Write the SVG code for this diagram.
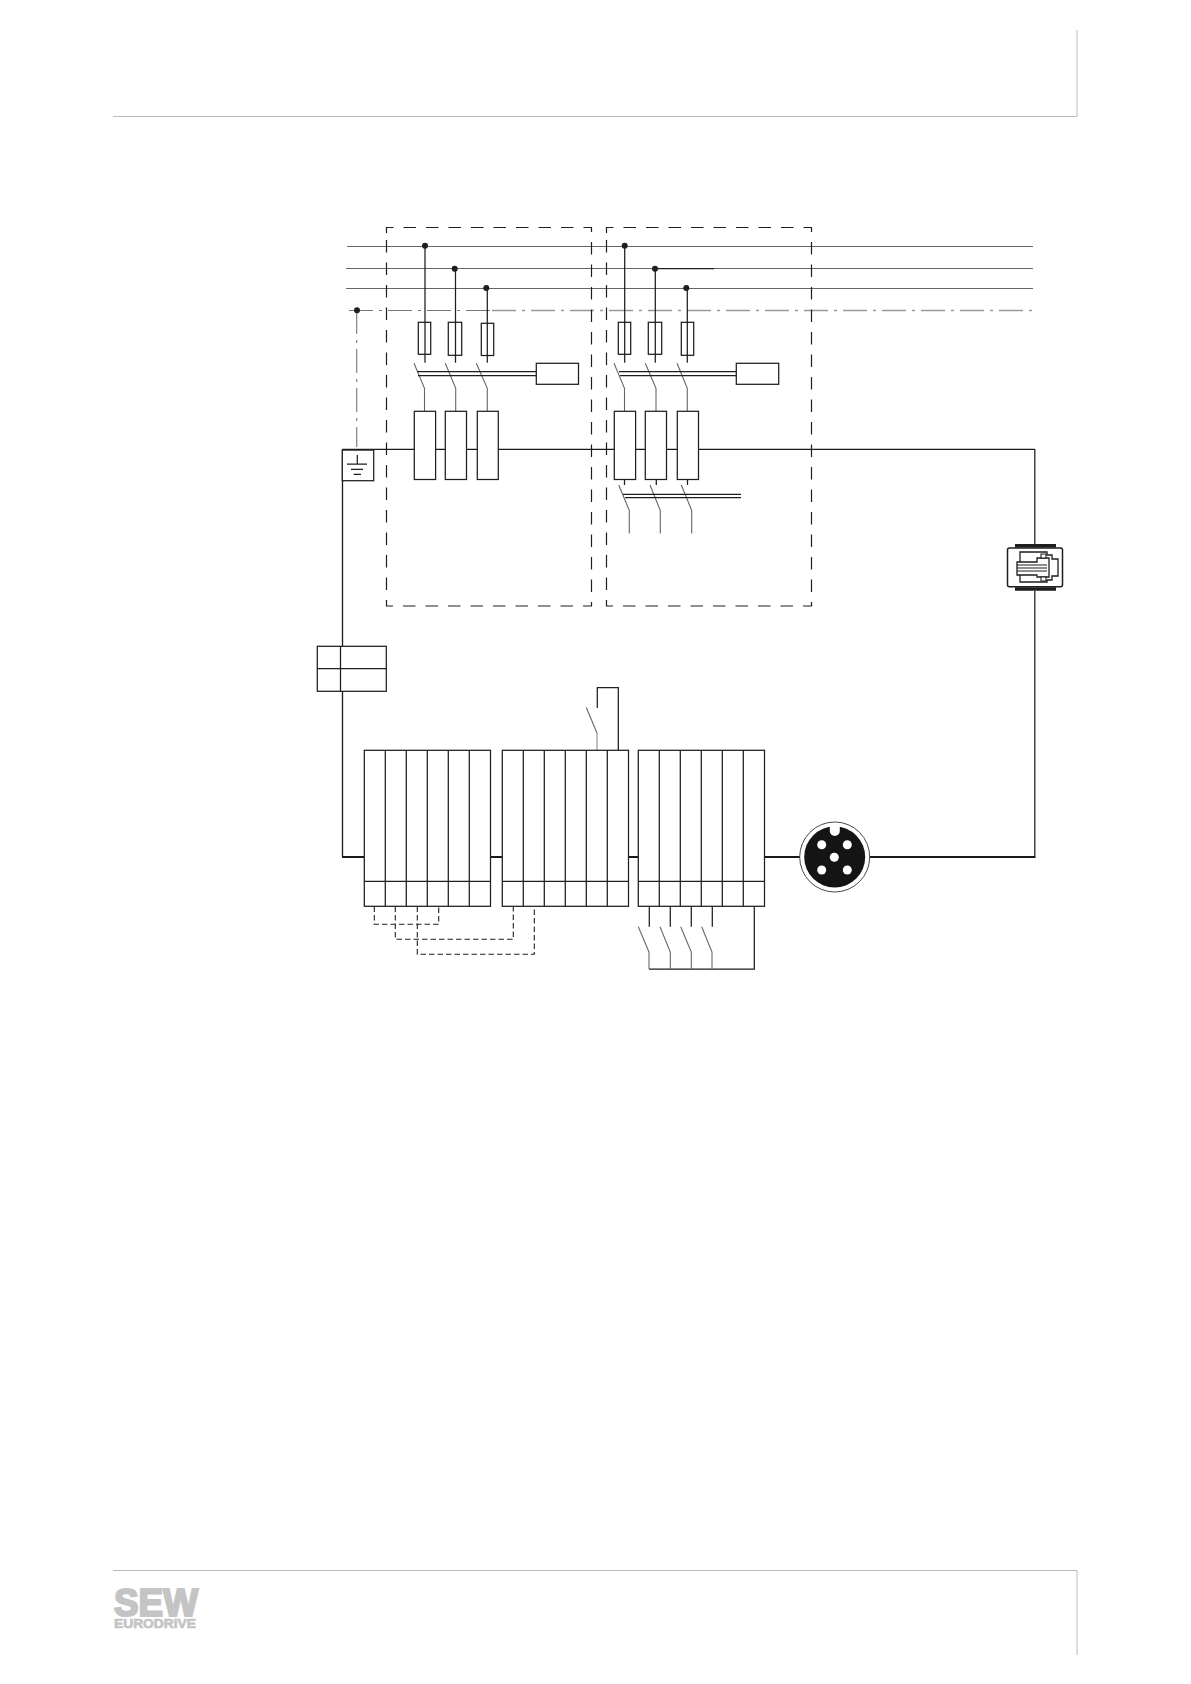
<svg xmlns="http://www.w3.org/2000/svg" width="1191" height="1684" viewBox="0 0 1191 1684">
<style>
.l{fill:none;stroke:#1e1e1e;stroke-width:1.25}
.b{fill:#fff;stroke:#1e1e1e;stroke-width:1.25}
.m{fill:none;stroke:#1a1a1a;stroke-width:1.3}
.t{fill:none;stroke:#1a1a1a;stroke-width:2}
.bus{fill:none;stroke:#666;stroke-width:1.2}
.sw{fill:none;stroke:#666;stroke-width:1.1}
.dd{fill:none;stroke:#777;stroke-width:1.1;stroke-dasharray:24 6 3 6}
.box{fill:none;stroke:#1e1e1e;stroke-width:1.2;stroke-dasharray:12.5 10}
.d2{fill:none;stroke:#1e1e1e;stroke-width:1.1;stroke-dasharray:5.5 3}
.p{fill:none;stroke:#bbb;stroke-width:1}
.dot{fill:#1e1e1e}
.logo{font-family:"Liberation Sans",Arial,sans-serif;font-weight:700;fill:#c4c4c4;stroke:#c4c4c4}
</style>
<g id="page-frame">
<path class="p" d="M113 116.5H1077V30M113 1570.5H1077V1655"/>
<text class="logo" x="114" y="1616" font-size="39" textLength="84" lengthAdjust="spacingAndGlyphs" stroke-width="2.2">SEW</text>
<text class="logo" x="114" y="1628" font-size="13.5" textLength="82" lengthAdjust="spacingAndGlyphs" stroke-width=".7">EURODRIVE</text>
</g>
<g id="connectors">
<path class="bus" d="M347 246.5H1033M346 268.5H1033M346 288.5H1033"/>
<path class="l" d="M655 268.5H714"/>
<path class="dd" d="M349 310.5H490"/>
<path d="M492 310.5H1033" fill="none" stroke="#999" stroke-width="1.4" stroke-dasharray="24 6 3 6"/>
<path class="dd" d="M356.7 310V447" stroke-dasharray="14 5 3 5"/>
<path class="m" d="M342.5 449.4H1035M342.5 449.4V857"/>
<path class="t" d="M342 857H364M490.5 857H502M628.5 857H638M764 857H800M870 857H1035.2"/>
<path class="l" d="M1034.8 449V548M1034.8 591V858" stroke-width="1.8"/>
<path class="l" d="M425 246V362.7M455.5 268.5V362.7M487.3 288V362.7M624.7 246V362.7M655.3 268.5V362.7M687.3 288V362.7"/>
<path class="sw" d="M414 363.3L424.5 388.3V411M445.3 363.3L455.7 388.3V411M476.3 363.3L487.3 388.3V411M614 363.3L624.5 388.3V411M645.3 363.3L656 388.3V411M677 363.3L687.3 388.3V411"/>
<path class="l" d="M417 371.7H536M418 375.5H536M619 371.7H736M620 375.5H736"/>
<path class="l" d="M624.5 479.5V485M656.3 479.5V485M687.5 479.5V485"/>
<path class="sw" d="M618.7 485L629.3 510.5V533.5M650 485L660.3 510.5V533.5M681.3 485L691.7 510.5V533.5"/>
<path class="l" d="M623 494.3H741M625 497.5H741"/>
<path class="d2" d="M374.3 906.5V924.3H438.7V906.5M395.3 906.5V939.3H513.3V906.5M417.3 906.5V954.3H534.3V906.5"/>
<path class="l" d="M597.3 708V687.7H618.3V750.3"/>
<path class="sw" d="M586.3 707.5L597 733"/><path d="M597 733V750.3" fill="none" stroke="#aaa" stroke-width="1.5"/>
<path class="l" d="M649.3 906.5V926.7M670.3 906.5V926.7M691.3 906.5V926.7M712.3 906.5V926.7M754.3 906.5V969H649"/>
<path class="sw" d="M638.3 926.7L649 952V969M660 926.7L670.3 952V969M680.7 926.7L691.3 952V969M701.7 926.7L712 952V969"/>
<circle class="dot" cx="425" cy="245.7" r="3"/><circle class="dot" cx="454.7" cy="268.7" r="3"/><circle class="dot" cx="486.3" cy="288" r="3"/><circle class="dot" cx="357" cy="310.2" r="3"/>
<circle class="dot" cx="624.7" cy="245.7" r="3"/><circle class="dot" cx="655" cy="268.7" r="3"/><circle class="dot" cx="686.3" cy="288" r="3"/>
</g>
<g id="zone-1"><path class="box" d="M386.5 233V227.5H591.5V606H386.5V234"/></g>
<g id="zone-2"><path class="box" d="M606.5 233V227.5H811.5V606H606.5V234"/></g>
<g id="fuses">
<rect class="l" x="418.3" y="322.3" width="12.4" height="32"/><rect class="l" x="448.3" y="322.3" width="13.4" height="33"/><rect class="l" x="481.3" y="323.3" width="12.4" height="32.2"/>
<rect class="l" x="618.3" y="322.3" width="12.4" height="32"/><rect class="l" x="648.3" y="322.3" width="13.4" height="32"/><rect class="l" x="681.3" y="322.3" width="12.4" height="33"/>
</g>
<g id="actuator-1"><rect class="b" x="536.3" y="363.3" width="42.2" height="21"/></g>
<g id="actuator-2"><rect class="b" x="736.3" y="363.3" width="42.4" height="21"/></g>
<g id="contactors">
<rect class="b" x="414.3" y="411.3" width="21.3" height="68.2"/><rect class="b" x="445.3" y="411.3" width="21.2" height="68.2"/><rect class="b" x="477.3" y="411.3" width="21" height="68.2"/>
<rect class="b" x="614.3" y="411.3" width="21.3" height="68.2"/><rect class="b" x="645.3" y="411.3" width="21.2" height="68.2"/><rect class="b" x="677.3" y="411.3" width="21.2" height="68.2"/>
</g>
<g id="earth">
<rect class="b" x="342.3" y="450" width="31.4" height="30.7"/>
<path class="l" d="M342.3 449.6H373.7" stroke-width="1.8"/>
<path class="l" d="M357.3 455V464M347 464.2H367M351 469.3H363M353.7 474.4H361"/>
</g>
<g id="terminal-small">
<rect class="b" x="317.3" y="646.3" width="69" height="45"/>
<path class="l" d="M317.3 668.5H386.3M340.5 646.3V691.3"/>
</g>
<g id="block-1">
<rect class="b" x="364.3" y="750.3" width="126.2" height="156"/>
<path class="l" d="M364.3 881.3H490.5M385.3 750.3V906.3M406.3 750.3V906.3M427.3 750.3V906.3M448.3 750.3V906.3M469.3 750.3V906.3"/>
</g>
<g id="block-2">
<rect class="b" x="502.3" y="750.3" width="126.2" height="156"/>
<path class="l" d="M502.3 881.3H628.5M523.3 750.3V906.3M544.3 750.3V906.3M565.3 750.3V906.3M586.3 750.3V906.3M607.3 750.3V906.3"/>
</g>
<g id="block-3">
<rect class="b" x="638.3" y="750.3" width="126.2" height="156"/>
<path class="l" d="M638.3 881.3H764.5M659.3 750.3V906.3M680.3 750.3V906.3M701.3 750.3V906.3M722.3 750.3V906.3M743.3 750.3V906.3"/>
</g>
<g id="round-connector">
<circle cx="834.7" cy="857" r="35" fill="#fff" stroke="#333" stroke-width=".9"/>
<circle cx="834.7" cy="857" r="30.5" fill="#141414"/>
<path d="M829.8 825H839.8V831A5 5 0 0 1 829.8 831Z" fill="#fff"/>
<g fill="#fff"><circle cx="834.3" cy="857.3" r="4.5"/><circle cx="821.7" cy="844.7" r="4.5"/><circle cx="847.3" cy="844.7" r="4.5"/><circle cx="821.7" cy="870" r="4.5"/><circle cx="847.3" cy="870" r="4.5"/></g>
</g>
<g id="rj-connector">
<rect x="1007.5" y="548" width="55" height="38.7" rx="2" fill="#fff" stroke="#1e1e1e" stroke-width="1.5"/>
<path d="M1015 545.8H1056M1015 589H1056" fill="none" stroke="#1e1e1e" stroke-width="3.4"/>
<path d="M1020 552H1047V555H1052V559H1058V576H1052V580H1047V582H1020Z" fill="none" stroke="#1e1e1e" stroke-width="1.3"/>
<path d="M1017 562H1037V558H1049V577H1037V575H1017Z" fill="#fff" stroke="#1e1e1e" stroke-width="1.3"/>
<path d="M1017 565H1047M1017 568H1047M1017 571H1047" fill="none" stroke="#1e1e1e" stroke-width="1.2"/>
<path d="M1041 554H1046V558H1041ZM1041 577H1046V581H1041Z" fill="#fff" stroke="#1e1e1e" stroke-width="1.1"/>
</g>
</svg>
